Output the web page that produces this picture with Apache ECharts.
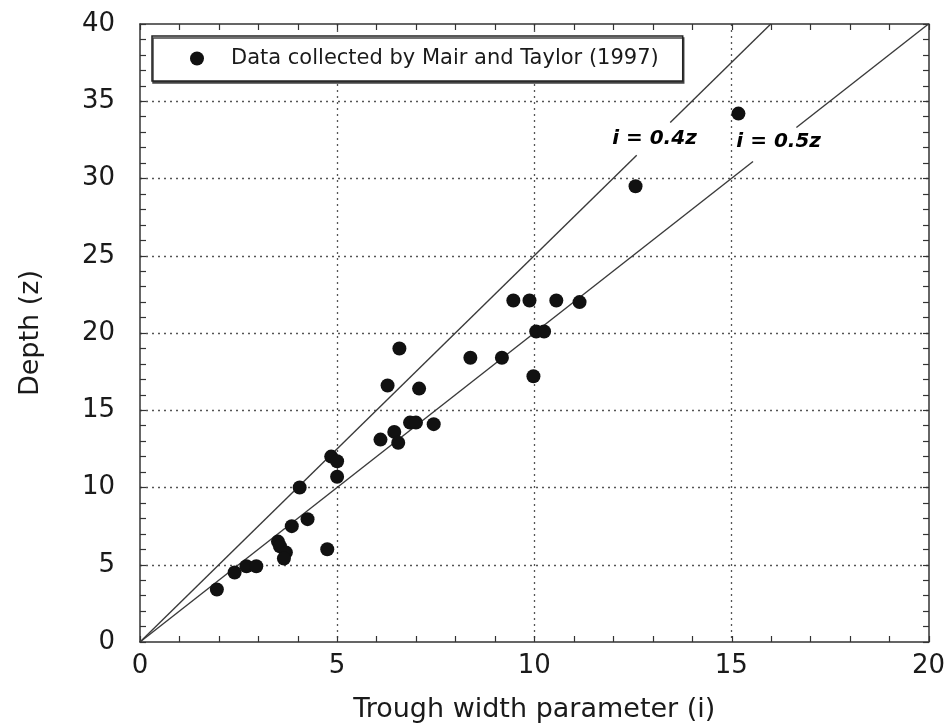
<!DOCTYPE html>
<html>
<head>
<meta charset="utf-8">
<script src="https://cdn.jsdelivr.net/npm/echarts@6/dist/echarts.min.js"></script>
<style>
html,body{margin:0;padding:0;background:#fff;}
#chart{width:948px;height:728px;}
</style>
</head>
<body>
<div id="chart"></div>
<script>
// Trough width parameter (i) and depth (z), Mair and Taylor (1997)
const troughWidth = [1.95, 2.4, 2.7, 2.95, 3.5, 3.55, 3.7, 3.65, 3.85, 4.25, 4.75, 4.05, 4.85, 5.0, 5.0,
  6.1, 6.45, 6.55, 6.85, 7.0, 7.45, 6.28, 6.58, 7.08, 8.38, 9.18, 9.47, 9.88, 10.56, 11.15,
  10.05, 10.25, 9.98, 12.57, 15.18];
const depth = [3.4, 4.5, 4.9, 4.9, 6.5, 6.2, 5.8, 5.4, 7.5, 7.95, 6.0, 10.0, 12.0, 11.7, 10.7,
  13.1, 13.6, 12.9, 14.2, 14.2, 14.1, 16.6, 19.0, 16.4, 18.4, 18.4, 22.1, 22.1, 22.1, 22.0,
  20.1, 20.1, 17.2, 29.5, 34.2];
const seriesName = 'Data collected by Mair and Taylor (1997)';

// Reference lines i = 0.4z and i = 0.5z (segments, broken where the label sits)
const line04Segments = [[[0, 0], [12.6, 31.5]], [[13.45, 33.625], [16, 40]]];
const line05Segments = [[[0, 0], [15.55, 31.1]], [[16.65, 33.3], [20, 40]]];
const lineLabels = ['i = 0.4z', 'i = 0.5z'];
const lineLabelPos = [[13.05, 32.6], [16.2, 32.4]];

const xTicks = [0, 5, 10, 15, 20];
const yTicks = [0, 5, 10, 15, 20, 25, 30, 35, 40];
const majorStep = 5;
const minorStep = 1;

const FONT = 'DejaVu Sans';
const TXT = '#1a1a1a';
const FRAME = '#333';
const GRID = { left: 140, right: 19, top: 24, bottom: 86 };

const points = troughWidth.map((v, k) => [v, depth[k]]);
const xMin = xTicks[0], xMax = xTicks[xTicks.length - 1];
const yMin = yTicks[0], yMax = yTicks[yTicks.length - 1];

function plainAxis(extra) {
  return Object.assign({
    type: 'value',
    axisLine: { show: true, onZero: false, lineStyle: { color: FRAME, width: 1.5 } },
    axisTick: { show: false },
    splitLine: { show: false },
    axisLabel: { show: false }
  }, extra);
}
function tickAxis(extra) {
  return Object.assign({
    type: 'value',
    axisLine: { show: false, onZero: false },
    axisTick: { show: true, inside: true, length: 6, lineStyle: { color: FRAME, width: 1.2 } },
    splitLine: { show: false },
    axisLabel: { show: false }
  }, extra);
}
const dotted = { show: true, showMinLine: false, showMaxLine: false,
  lineStyle: { color: '#555', width: 1.3, type: [2, 4] } };

const xAxes = [
  plainAxis({ gridIndex: 0, min: xMin, max: xMax, interval: majorStep, position: 'bottom',
    axisLabel: { show: true, fontFamily: FONT, fontSize: 26, color: TXT, margin: 11 },
    splitLine: dotted,
    name: 'Trough width parameter (i)', nameLocation: 'middle', nameGap: 54,
    nameTextStyle: { fontFamily: FONT, fontSize: 27, color: TXT } }),
  plainAxis({ gridIndex: 0, min: xMin, max: xMax, interval: majorStep, position: 'top' }),
  tickAxis({ gridIndex: 1, min: xMin, max: xMax, interval: minorStep, position: 'bottom' }),
  tickAxis({ gridIndex: 1, min: xMin, max: xMax, interval: minorStep, position: 'top' })
];
const yAxes = [
  plainAxis({ gridIndex: 0, min: yMin, max: yMax, interval: majorStep, position: 'left',
    axisLabel: { show: true, fontFamily: FONT, fontSize: 26, color: TXT, margin: 25 },
    splitLine: dotted,
    name: 'Depth (z)', nameLocation: 'middle', nameGap: 96, nameRotate: 90,
    nameTextStyle: { fontFamily: FONT, fontSize: 27, color: TXT } }),
  plainAxis({ gridIndex: 0, min: yMin, max: yMax, interval: majorStep, position: 'right' }),
  tickAxis({ gridIndex: 1, min: yMin, max: yMax, interval: minorStep, position: 'left' }),
  tickAxis({ gridIndex: 1, min: yMin, max: yMax, interval: minorStep, position: 'right' })
];

const series = [];
[line04Segments, line05Segments].forEach((segs) => {
  segs.forEach((seg) => {
    series.push({
      type: 'line', data: seg, symbol: 'none', silent: true, z: 2,
      lineStyle: { color: '#3a3a3a', width: 1.4 }, xAxisIndex: 0, yAxisIndex: 0
    });
  });
});
series.push({
  type: 'scatter', name: 'lineLabels', silent: true, z: 4, xAxisIndex: 0, yAxisIndex: 0,
  data: lineLabelPos.map((p, k) => ({ value: p, name: lineLabels[k] })),
  symbolSize: 0,
  itemStyle: { opacity: 1 },
  label: { show: true, position: 'inside', formatter: (p) => p.name,
    fontFamily: FONT, fontSize: 20, fontWeight: 'bold', fontStyle: 'italic', color: '#000' }
});
series.push({
  type: 'scatter', name: seriesName, data: points, symbol: 'circle', symbolSize: 14, z: 5,
  xAxisIndex: 0, yAxisIndex: 0,
  itemStyle: { color: '#111', opacity: 1 }
});

const chart = echarts.init(document.getElementById('chart'), null, { renderer: 'canvas' });
chart.setOption({
  backgroundColor: '#fff',
  animation: false,
  grid: [Object.assign({}, GRID), Object.assign({}, GRID)],
  legend: {
    data: [{ name: seriesName, icon: 'circle' }],
    left: 152, top: 36,
    backgroundColor: '#fff',
    borderColor: '#222', borderWidth: 1.5,
    shadowColor: '#444', shadowOffsetX: 1, shadowOffsetY: 2, shadowBlur: 0,
    padding: [12, 24, 12, 38],
    itemWidth: 14, itemHeight: 14,
    selectedMode: false,
    textStyle: { fontFamily: FONT, fontSize: 21, color: TXT, padding: [0, 0, 0, 22] }
  },
  xAxis: xAxes,
  yAxis: yAxes,
  series: series
});
</script>
</body>
</html>
